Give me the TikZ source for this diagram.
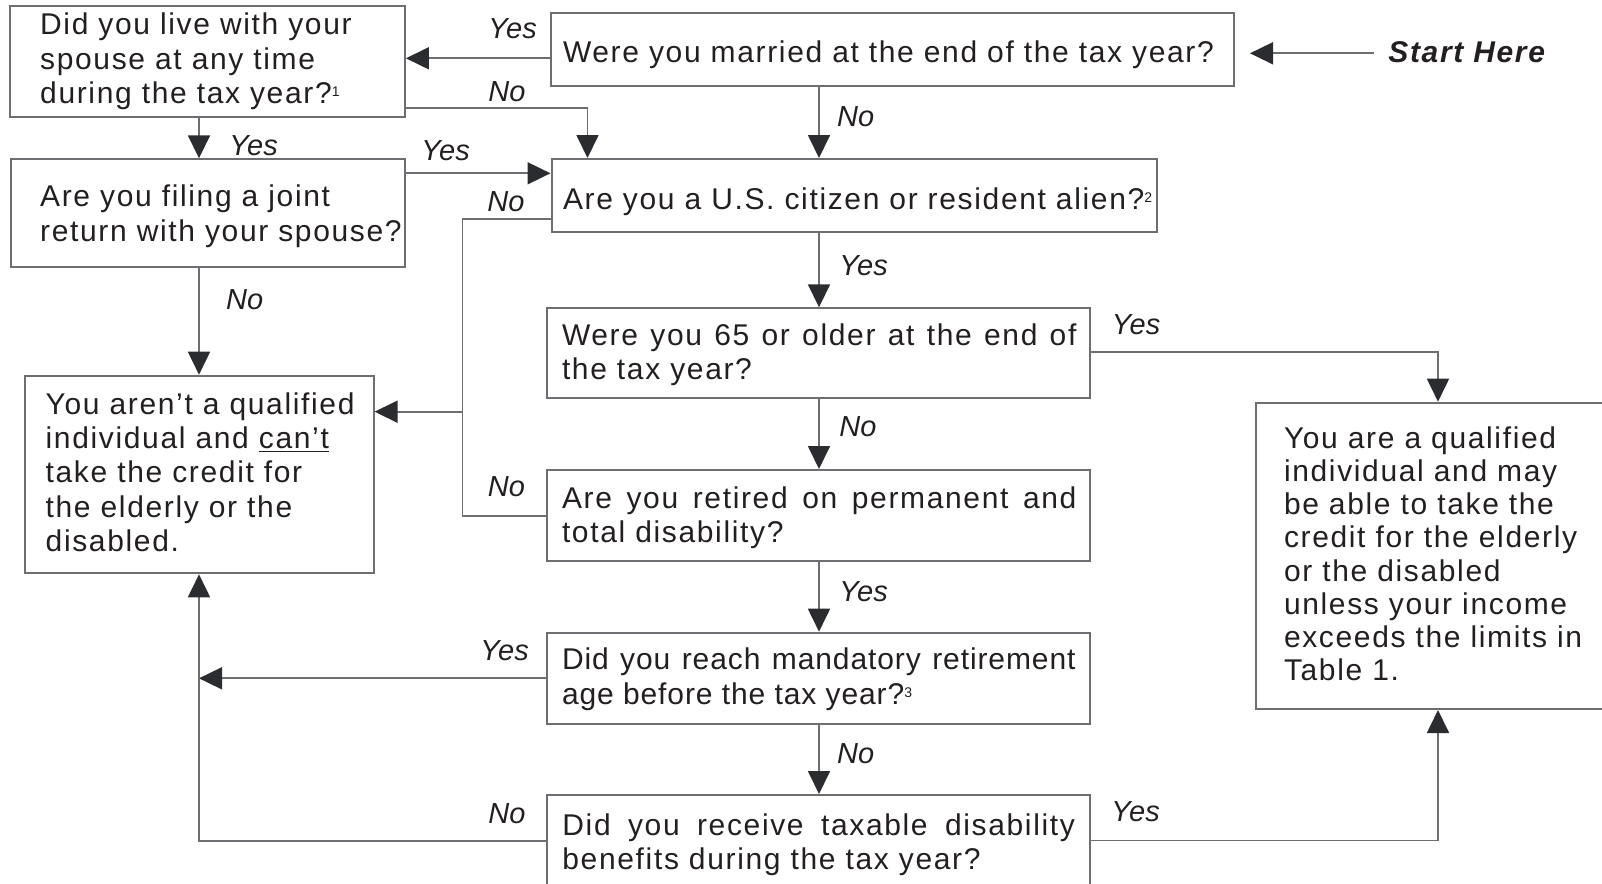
\documentclass[tikz,border=0pt]{standalone}
\usepackage{fontspec}
\setmainfont{Liberation Sans}[LetterSpace=5.5]
\newfontfamily\ansfont{Liberation Sans}
\usetikzlibrary{arrows.meta}
\definecolor{txt}{HTML}{231F20}
\definecolor{ln}{HTML}{6D6E71}
\definecolor{tipc}{HTML}{2B2C30}
\tikzset{
  qbox/.style={draw=ln, line width=1pt, inner sep=0pt, text=txt,
    font=\fontsize{15}{17.2}\selectfont},
  flow/.style={draw=ln, line width=0.9pt, -{Triangle[length=11.5pt,width=11pt,color=tipc]}},
  link/.style={draw=ln, line width=0.9pt},
  ans/.style={inner sep=0pt, anchor=base west, text=txt,
    font=\ansfont\itshape\fontsize{14.5}{14.5}\selectfont},
}
% box width, text offset, text width, raise, text
\newcommand{\qtext}[6][\raggedright]{%
  \makebox[#2][l]{\hspace*{#3}\raisebox{#5}[0pt][0pt]{\parbox[t]{#4}{#1#6}}}}
\newcommand{\fnmark}[1]{\raisebox{3.5pt}{\fontsize{7}{7}\selectfont #1}}

\begin{document}
\begin{tikzpicture}[x=0.5pt,y=-0.5pt]
\useasboundingbox (0,0) rectangle (1602,884);
\clip (0,0) rectangle (1602,884);

\node[qbox, minimum height=55.35pt] (live) at (207.25,61.35)
  {\qtext{197.65pt}{15.3pt}{182pt}{13.2pt}{Did you live with your\\spouse at any time\\during the tax year?\fnmark{1}}};
\node[qbox, minimum height=36.35pt] (married) at (892.7,49.65)
  {\qtext{341.6pt}{5.95pt}{335pt}{-6.4pt}{Were you married at the end of the tax year?}};
\node[qbox, minimum height=53.7pt] (joint) at (207.8,213)
  {\qtext{197.1pt}{14.75pt}{182.35pt}{3.15pt}{Are you filing a joint\\return with your spouse?}};
\node[qbox, minimum height=36.65pt] (citizen) at (854.05,195.65)
  {\qtext{302.55pt}{5.75pt}{296pt}{-6.7pt}{Are you a U.S. citizen or resident alien?\fnmark{2}}};
\node[qbox, minimum height=45pt] (older) at (818.5,353.3)
  {\qtext[]{271.5pt}{7.5pt}{257.25pt}{4.15pt}{Were you 65 or older at the end of\linebreak the tax year?}};
\node[qbox, minimum height=45.5pt] (retired) at (818.5,515.5)
  {\qtext[]{271.5pt}{7.5pt}{257.25pt}{3.6pt}{Are you retired on permanent and\linebreak total disability?}};
\node[qbox, minimum height=45.65pt] (mandatory) at (818.5,678.35)
  {\qtext[\addfontfeatures{LetterSpace=3}]{271.5pt}{7.5pt}{256.75pt}{4.2pt}{Did you reach mandatory retirement\linebreak age before the tax year?\fnmark{3}}};
\node[qbox, minimum height=46.5pt] (benefits) at (818.5,841.5)
  {\qtext[]{271.5pt}{7.7pt}{256.3pt}{3.25pt}{Did you receive taxable disability\linebreak benefits during the tax year?}};
\node[qbox, minimum height=98.8pt] (notq) at (199.1,474.5)
  {\qtext{174.5pt}{10.55pt}{163.95pt}{30.25pt}{You aren’t a qualified\\individual and \underline{can’t}\\take the credit for\\the elderly or the\\disabled.}};
\node[qbox, minimum height=153.15pt, font=\fontsize{15}{16.6}\selectfont] (qual) at (1433,555.85)
  {\qtext{177pt}{14pt}{163pt}{53.8pt}{You are a qualified\\individual and may\\be able to take the\\credit for the elderly\\or the disabled\\unless your income\\exceeds the limits in\\Table 1.}};
\node[inner sep=0pt, anchor=base west, text=txt, font=\bfseries\itshape\fontsize{15}{15}\selectfont] (start) at (1388,62.3) {Start Here};

\coordinate (lcol) at (199,0);
\coordinate (mcol) at (819,0);
\coordinate (ncol) at (462.5,0);
\coordinate (rcol) at (1438,0);
\coordinate (acol) at (587.5,0);
\coordinate (in) at (1250,53.3);

\draw[flow] ([xshift=-7pt]start.west |- in) -- (in);
\draw[flow] (married.west |- 0,58.3) -- (live.east |- 0,58.3);
\draw[flow] (live.east |- 0,108.3) -| (citizen.north -| acol);
\draw[flow] (married.south -| mcol) -- (citizen.north -| mcol);
\draw[flow] (live.south -| lcol) -- (joint.north -| lcol);
\draw[flow] (joint.east |- 0,173.3) -- (citizen.west |- 0,173.3);
\draw[flow] (citizen.west |- 0,219) -| (ncol |- 0,411.7) -- (notq.east |- 0,411.7);
\draw[link] (retired.west |- 0,516) -| (ncol |- 0,411.7);
\draw[flow] (joint.south -| lcol) -- (notq.north -| lcol);
\draw[flow] (citizen.south -| mcol) -- (older.north -| mcol);
\draw[flow] (older.east |- 0,352.3) -| (qual.north -| rcol);
\draw[flow] (older.south -| mcol) -- (retired.north -| mcol);
\draw[flow] (retired.south -| mcol) -- (mandatory.north -| mcol);
\draw[flow] (mandatory.west |- 0,678.3) -- (lcol |- 0,678.3);
\draw[flow] (mandatory.south -| mcol) -- (benefits.north -| mcol);
\draw[flow] (benefits.west |- 0,841) -| (notq.south -| lcol);
\draw[flow] (benefits.east |- 0,840.5) -| (qual.south -| rcol);

\foreach \txt/\x/\y/\nm in {Yes/488/38.4/ya, No/488/101/na, No/836.7/126/nb,
  Yes/229/155/yb, Yes/421/160/yc, No/487/211.5/nc, No/225.7/309.3/nd,
  Yes/839/275/yd, Yes/1111.5/334.5/ye, No/839/436.7/ne, No/487.5/496.7/nf,
  Yes/839/601.7/yf, Yes/480/660/yg, No/836.7/763.3/ng, No/488/823/nh,
  Yes/1111/821.7/yh}
  \node[ans] (\nm) at (\x,\y) {\txt};
\end{tikzpicture}
\end{document}
